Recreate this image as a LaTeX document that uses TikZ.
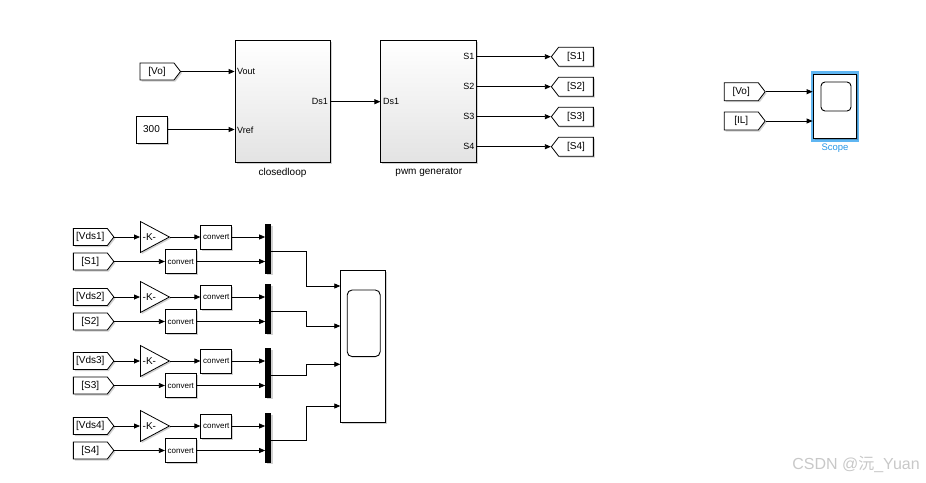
\documentclass[tikz,border=0pt]{standalone}
\usepackage{fontspec}
\setmainfont{Liberation Sans}
\newfontfamily\cjkf{Noto Sans CJK SC}
\usetikzlibrary{arrows.meta,shapes.geometric,shapes.symbols,shadows}
\definecolor{selblue}{RGB}{95,182,242}
\definecolor{scopeblue}{RGB}{40,150,230}
\definecolor{wmgray}{RGB}{200,200,200}
\begin{document}
\begin{tikzpicture}[x=1pt,y=-1pt,
  shd/.style={drop shadow={shadow xshift=1.5pt,shadow yshift=-1.5pt,opacity=0.18,fill=black}},
  blk/.style={draw,line width=0.8pt,fill=white,inner sep=0pt,shd},
  gblk/.style={blk,top color=white,middle color=white,bottom color=gray!22},
  sig/.style={draw,line width=0.8pt,-{Triangle[length=6pt,width=5pt]}},
  fromtag/.style={blk,shape=signal,signal to=east,signal pointer angle=105,
     minimum height=17pt,minimum width=40.5pt,font=\fontsize{10}{12}\selectfont},
  gototag/.style={blk,shape=signal,signal to=west,signal pointer angle=105,
     minimum height=19pt,minimum width=42pt,font=\fontsize{10}{12}\selectfont},
  gainblk/.style={blk,shape=isosceles triangle,isosceles triangle stretches=true,
     minimum width=31pt,minimum height=29pt},
  conv/.style={blk,minimum width=31pt,minimum height=24pt,font=\fontsize{8}{9}\selectfont},
  muxbar/.style={fill=black,draw=none,minimum width=5.7pt,minimum height=49.5pt,inner sep=0pt,shd},
  port/.style={inner sep=0pt,font=\fontsize{9}{10}\selectfont},
  lbl/.style={inner sep=0pt,font=\fontsize{10}{12}\selectfont},
  scr/.style={draw,line width=0.9pt,inner sep=0pt},
]
\useasboundingbox (0,0) rectangle (926,482);

% ---------- top left: closed loop and pwm generator ----------
\node[fromtag] (vo1) at (157,71.5) {[Vo]};
\node[blk,minimum width=31pt,minimum height=27pt,font=\fontsize{10}{12}\selectfont] (c300) at (151.5,129.5) {300};
\node[gblk,minimum width=95pt,minimum height=122pt] (cl) at (282.5,101.7) {};
\node[lbl] (cllbl) at (282.5,172.5) {closedloop};
\node[port,anchor=west] (clvout) at (237,71.7) {Vout};
\node[port,anchor=west] (clvref) at (237,130) {Vref};
\node[port,anchor=east] (clds) at (328,101.7) {Ds1};

\node[gblk,minimum width=96pt,minimum height=122pt] (pwm) at (428.8,101.7) {};
\node[lbl] (pwmlbl) at (428.8,172.5) {pwm generator};
\node[port,anchor=west] (pwmds) at (383,101.7) {Ds1};

\draw[sig] (vo1.east) -- (vo1.east -| cl.west);
\draw[sig] (c300.east) -- (c300.east -| cl.west);
\draw[sig] (cl.east) -- (pwm.west);

\foreach \i/\y in {1/56.7,2/86.7,3/116.7,4/146.7}{
  \node[port,anchor=east] (pwms\i) at (474.5,\y) {S\i};
  \node[gototag] (gs\i) at (576,\y) {[S\i]};
  \draw[sig] (pwm.east |- gs\i.west) -- (gs\i.west);
}

% ---------- top right: scope ----------
\node[fromtag,minimum width=41pt,minimum height=18pt] (vo2) at (741.2,91.7) {[Vo]};
\node[fromtag,minimum width=41pt,minimum height=18pt] (il) at (741.2,121) {[IL]};
\node[draw=selblue,line width=2.6pt,minimum width=45.6pt,minimum height=67.9pt,inner sep=0pt] (sel) at (835,106.6) {};
\node[blk,minimum width=43pt,minimum height=64.7pt] (sc1) at (834.5,106.3) {};
\node[scr,rounded corners=4pt,minimum width=30pt,minimum height=29pt] (sc1s) at (836,96.5) {};
\node[inner sep=0pt,text=scopeblue,font=\fontsize{9.5}{11}\selectfont] (sc1l) at (835,148) {Scope};
\draw[sig] (vo2.east) -- (vo2.east -| sc1.west);
\draw[sig] (il.east) -- (il.east -| sc1.west);

% ---------- bottom: Vds / S groups ----------
\node[blk,minimum width=45.4pt,minimum height=152.3pt] (sc2) at (363,346.2) {};
\node[scr,rounded corners=5pt,minimum width=33pt,minimum height=66.7pt] (sc2s) at (363.7,323.3) {};
\coordinate (xc) at (306,0);

\foreach \i/\y/\yy in {1/237/286,2/297/326,3/361/364.3,4/426/406}{
  \node[fromtag] (vds\i) at (90.35,\y) {[Vds\i]};
  \node[fromtag] (s\i) at (90.35,\y+24.5) {[S\i]};
  \node[gainblk,anchor=lower side] (k\i) at (140,\y) {};
  \node[inner sep=0pt,anchor=west,font=\fontsize{10}{12}\selectfont] (kt\i) at (142.5,\y) {-K-};
  \node[conv] (ca\i) at (216.3,\y) {convert};
  \node[conv] (cb\i) at (180.8,\y+24.5) {convert};
  \node[muxbar] (m\i) at (268.2,\y+11.75) {};
  \path (m\i.east) ++(0,2.75) coordinate (mo\i);
  \coordinate (in\i) at (340.3,\yy);
  \draw[sig] (vds\i.east) -- (k\i.lower side);
  \draw[sig] (k\i.apex) -- (ca\i.west);
  \draw[sig] (ca\i.east) -- (ca\i.east -| m\i.west);
  \draw[sig] (s\i.east) -- (cb\i.west);
  \draw[sig] (cb\i.east) -- (cb\i.east -| m\i.west);
  \draw[sig] (mo\i) -- (mo\i -| xc) |- (in\i);
}

% ---------- watermark ----------
\node[inner sep=0pt,text=wmgray,font=\fontsize{16}{18}\selectfont] (wm) at (856,464) {CSDN @{\cjkf 沅}\_Yuan};
\end{tikzpicture}
\end{document}
